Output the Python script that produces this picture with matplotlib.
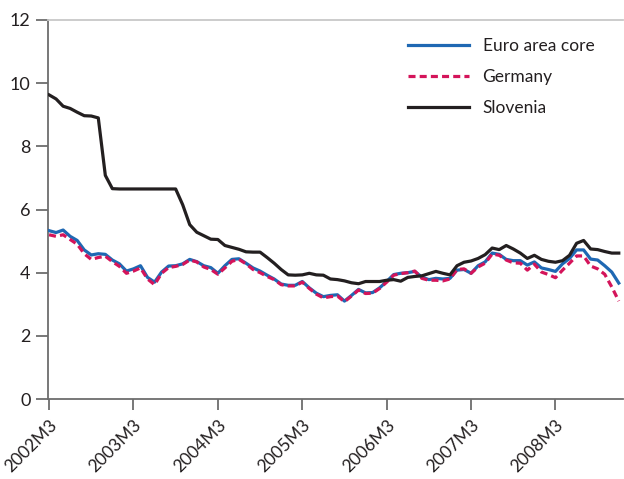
import matplotlib
matplotlib.use("Agg")
import matplotlib.pyplot as plt
import numpy as np

years = list(range(2002, 2009))
tick_labels = [f"{y}M3" for y in years]

slovenia = [9.63, 9.50, 9.27, 9.20, 9.08, 8.97, 8.96, 8.90, 7.08, 6.66,
            6.65, 6.65, 6.65, 6.65, 6.65, 6.65, 6.65, 6.65, 6.65, 6.15,
            5.52, 5.28, 5.17, 5.06, 5.05, 4.86, 4.80, 4.74, 4.66, 4.65,
            4.65, 4.48, 4.30, 4.10, 3.93, 3.92, 3.93, 3.98, 3.93, 3.92,
            3.80, 3.78, 3.74, 3.68, 3.65, 3.72, 3.72, 3.72, 3.76, 3.78,
            3.73, 3.85, 3.88, 3.90, 3.97, 4.04, 3.98, 3.93, 4.22, 4.33,
            4.37, 4.45, 4.57, 4.78, 4.73, 4.86, 4.75, 4.62, 4.45, 4.55,
            4.42, 4.36, 4.33, 4.38, 4.55, 4.93, 5.02, 4.75, 4.73, 4.67,
            4.62, 4.62]

euro_core = [5.33, 5.27, 5.35, 5.15, 5.02, 4.72, 4.56, 4.60, 4.58, 4.40,
             4.28, 4.05, 4.12, 4.22, 3.85, 3.70, 4.02, 4.21, 4.22, 4.28,
             4.42, 4.35, 4.22, 4.16, 3.98, 4.22, 4.42, 4.44, 4.30, 4.15,
             4.05, 3.92, 3.80, 3.64, 3.60, 3.60, 3.72, 3.52, 3.35, 3.24,
             3.28, 3.30, 3.10, 3.28, 3.47, 3.36, 3.37, 3.52, 3.72, 3.94,
             3.98, 4.00, 4.04, 3.86, 3.78, 3.82, 3.80, 3.82, 4.08, 4.10,
             3.98, 4.22, 4.34, 4.62, 4.58, 4.42, 4.38, 4.38, 4.24, 4.34,
             4.15, 4.10, 4.04, 4.28, 4.45, 4.72, 4.72, 4.43, 4.40, 4.22,
             4.02, 3.67]

germany = [5.20, 5.15, 5.20, 5.05, 4.90, 4.60, 4.42, 4.48, 4.52, 4.35,
           4.20, 3.98, 4.05, 4.15, 3.80, 3.62, 3.98, 4.16, 4.20, 4.26,
           4.40, 4.34, 4.18, 4.10, 3.95, 4.15, 4.36, 4.42, 4.28, 4.10,
           4.00, 3.88, 3.78, 3.62, 3.58, 3.58, 3.70, 3.50, 3.32, 3.20,
           3.24, 3.26, 3.08, 3.26, 3.45, 3.34, 3.35, 3.50, 3.70, 3.92,
           3.97, 4.00, 4.05, 3.82, 3.76, 3.76, 3.74, 3.80, 4.10, 4.12,
           3.98, 4.18, 4.30, 4.59, 4.55, 4.40, 4.31, 4.30, 4.08, 4.27,
           4.02, 3.94, 3.84, 4.08, 4.30, 4.53, 4.53, 4.21, 4.12, 3.95,
           3.55, 3.10]

x = np.arange(len(slovenia))
tick_pos = [12 * i for i in range(len(years))]

plt.rcParams['font.family'] = ['Lato', 'DejaVu Sans']

fig = plt.figure(figsize=(6.24, 4.79), dpi=100)
ax = fig.add_axes([48/624, 1 - 399/479, 575/624, 379/479])

ax.plot(x, euro_core, color='#1f68b3', lw=2.3, label='Euro area core', zorder=3)
ax.plot(x, germany, color='#d4145a', lw=2.3, ls=(0, (2.2, 1.3)), label='Germany', zorder=4)
ax.plot(x, slovenia, color='#231f20', lw=2.3, label='Slovenia', zorder=5)

ax.set_xlim(-0.15, 81.6)
ax.set_ylim(0, 12)
ax.set_yticks(range(0, 13, 2))
ax.set_xticks(tick_pos)
ax.set_xticklabels(tick_labels, rotation=45, ha='right', rotation_mode='anchor')

for s in ['left', 'bottom']:
    ax.spines[s].set_color('#6d6d6d')
    ax.spines[s].set_linewidth(1.3)
ax.spines['top'].set_color('#c8c8c8')
ax.spines['top'].set_linewidth(1.3)
ax.spines['right'].set_visible(False)

ax.tick_params(axis='y', direction='out', length=8.5, width=1.3, color='#6d6d6d',
               labelsize=13, labelcolor='#231f20', pad=4)
ax.tick_params(axis='x', direction='out', length=8, width=1.3, color='#6d6d6d',
               labelsize=12.5, labelcolor='#231f20', pad=5)

leg = ax.legend(loc='upper left', bbox_to_anchor=(0.626, 0.952), frameon=False,
                fontsize=12.5, handlelength=3.5, handletextpad=0.8,
                labelspacing=0.85, borderpad=0, borderaxespad=0)
for t in leg.get_texts():
    t.set_color('#231f20')

fig.savefig('out.png', dpi=100)
